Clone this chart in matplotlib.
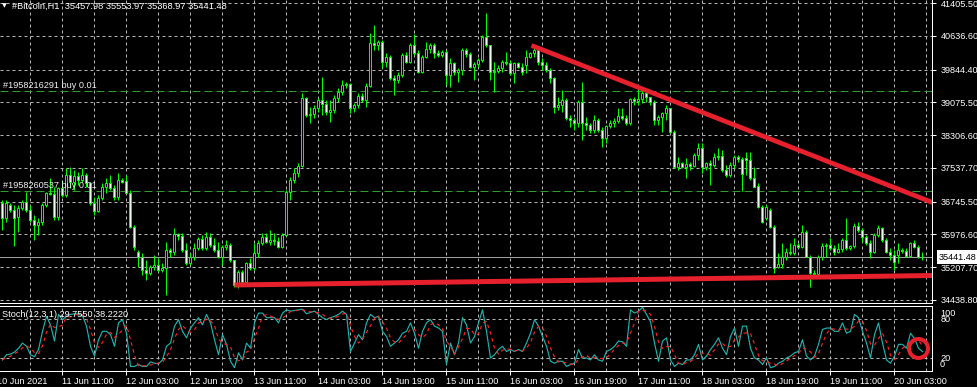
import matplotlib
matplotlib.use("Agg")
import matplotlib.pyplot as plt
import matplotlib.transforms as mtransforms
import numpy as np
import pandas as pd

plt.rcParams['font.family'] = ['Liberation Sans', 'DejaVu Sans']

# ---------------- data ----------------
opens = [36714, 36362, 36667, 36550, 36386, 36597, 36738, 36550, 36315, 36198,
         36269, 36667, 36949, 36925, 36386, 37066, 36902, 37371, 37207, 37347,
         37254, 37371, 37183, 36714, 36527, 36832, 37089, 37183, 37066, 36855,
         37254, 37230, 36949, 36151, 35565, 35447, 35143, 35072, 35213, 35260,
         35143, 35189, 35612, 35565, 35987, 35940, 35612, 35307, 35447, 35659,
         35870, 35659, 35917, 35729, 35612, 35447, 35682, 35729, 35377, 34791,
         35096, 34861, 35307, 35189, 35541, 35776, 35917, 35800, 35846, 35823,
         35682, 35964, 36972, 37254, 37418, 37582, 39177, 38778, 38802, 38943,
         39130, 39036, 38849, 38896, 39177, 39318, 39482, 39506, 38943, 39013,
         39224, 39130, 39459, 40467, 40420, 40491, 40022, 40139, 39646, 39599,
         39717, 40186, 40022, 40420, 40233, 39787, 40139, 40327, 40420, 40233,
         40186, 40256, 39717, 39998, 39787, 39834, 40303, 40209, 39904, 39975,
         40069, 40608, 40420, 39787, 39811, 39881, 40022, 39998, 39764, 39998,
         39904, 39951, 40139, 40233, 40303, 40022, 39951, 39834, 39646, 38966,
         39013, 39130, 38708, 38661, 38591, 39083, 38591, 38544, 38427, 38661,
         38427, 38239, 38520, 38591, 38638, 38755, 38708, 38591, 39154, 39107,
         39154, 39294, 39201, 39083, 38661, 38732, 38825, 38943, 38380, 37559,
         37653, 37559, 37629, 37582, 37840, 38004, 37559, 37653, 37606, 37793,
         37817, 37488, 37371, 37606, 37793, 37746, 37770, 37723, 37301, 37113,
         36620, 36362, 36550, 36151, 35213, 35283, 35447, 35565, 35541, 35729,
         35682, 36034, 35447, 35072, 35049, 35447, 35706, 35729, 35659, 35565,
         35635, 35846, 35659, 35706, 36175, 36081, 35917, 35776, 35565, 35964,
         36128, 35846, 35565, 35494, 35494, 35612, 35588, 35471, 35776, 35682,
         35457.98]

highs = [36785, 36785, 36714, 36667, 36667, 36785, 36972, 36667, 36433, 36362,
         36714, 36972, 37301, 37089, 37089, 37254, 37535, 37559, 37488, 37441,
         37535, 37418, 37207, 36855, 36902, 37183, 37301, 37371, 37136, 37418,
         37301, 37371, 37019, 36198, 35612, 35541, 35377, 35260, 35494, 35424,
         35307, 35800, 35659, 36128, 36011, 36011, 35776, 35541, 35776, 35917,
         35964, 36034, 36011, 35893, 35800, 35729, 35846, 35776, 35377, 35143,
         35143, 35330, 35424, 35776, 35846, 36011, 36011, 36081, 36011, 35917,
         36011, 37019, 37324, 37535, 37653, 39294, 39201, 38966, 39013, 39177,
         39670, 39130, 39130, 39248, 39412, 39599, 39553, 39529, 39060, 39294,
         39294, 39529, 40702, 40890, 40538, 40538, 40233, 40186, 39717, 39787,
         40233, 40256, 40467, 40678, 40303, 40186, 40491, 40467, 40467, 40303,
         40303, 40303, 40116, 40022, 39881, 40350, 40350, 40256, 40022, 40116,
         40655, 41171, 40420, 40022, 39951, 40069, 40256, 40069, 40022, 40022,
         39998, 40303, 40256, 40350, 40350, 40116, 40022, 39881, 39670, 39201,
         39365, 39177, 38778, 38708, 39130, 39553, 38732, 38591, 38778, 38708,
         38497, 38544, 38661, 38708, 38943, 38943, 38778, 39177, 39201, 39412,
         39412, 39365, 39201, 39130, 38778, 38849, 39013, 38943, 38427, 37793,
         37676, 37770, 37676, 37887, 38122, 38122, 37676, 37723, 37887, 38004,
         37957, 37606, 37676, 37840, 37840, 37793, 37910, 37910, 37559, 37183,
         36667, 36667, 36597, 36198, 35541, 35776, 35659, 35776, 35893, 35776,
         36198, 36081, 35494, 35143, 35494, 35776, 35776, 35893, 35729, 35776,
         35893, 36362, 35729, 36245, 36269, 36128, 35964, 35846, 36011, 36198,
         36151, 35893, 35659, 35612, 35776, 35659, 35659, 35800, 35846, 35729,
         35553.97]

lows = [36081, 36269, 36503, 35706, 36034, 36550, 36503, 36269, 35846, 35964,
        36198, 36620, 36902, 36315, 36315, 36855, 36855, 37066, 37019, 37136,
        37207, 37089, 36667, 36433, 36503, 36785, 36949, 37019, 36785, 36785,
        37183, 36949, 36128, 35612, 35213, 35025, 34908, 35025, 35143, 35096,
        35096, 34556, 35447, 35494, 35846, 35565, 35260, 35260, 35377, 35612,
        35612, 35612, 35682, 35565, 35424, 35260, 35612, 35330, 34744, 34720,
        34838, 34838, 35143, 35143, 35447, 35729, 35776, 35729, 35729, 35659,
        35659, 35940, 36785, 37183, 37324, 37559, 38732, 38591, 38708, 38849,
        38778, 38778, 38614, 38825, 39083, 39248, 39412, 38825, 38849, 38943,
        39083, 38966, 39435, 40303, 40303, 39881, 39904, 39599, 39248, 39529,
        39670, 39998, 39998, 40186, 39764, 39764, 40116, 40233, 40116, 40139,
        40139, 39482, 39435, 39717, 39553, 39717, 40139, 39881, 39599, 39904,
        40022, 40374, 39599, 39318, 39764, 39787, 39951, 39717, 39529, 39881,
        39717, 39764, 40116, 40139, 39951, 39834, 39787, 39529, 38825, 38896,
        38849, 38661, 38497, 38427, 38497, 38192, 38427, 38356, 38356, 38380,
        38028, 38122, 38474, 38497, 38591, 38661, 38544, 38544, 39013, 39013,
        39060, 39083, 39013, 38544, 38544, 38380, 38661, 38356, 37535, 37488,
        37535, 37301, 37488, 37559, 37723, 37418, 37488, 37136, 37559, 37723,
        37441, 37324, 37324, 37535, 37676, 36996, 37371, 37254, 37089, 36597,
        36245, 36315, 36128, 35072, 35189, 35189, 35377, 35494, 35494, 35659,
        35659, 35447, 34744, 34978, 35049, 35377, 35447, 35612, 35494, 35541,
        35565, 35612, 35612, 35659, 36034, 35800, 35729, 35424, 35541, 35917,
        35800, 35541, 35377, 35143, 35307, 35541, 35447, 35447, 35659, 35424,
        35368.97]

closes = [36362, 36714, 36550, 36362, 36597, 36738, 36550, 36315, 36198, 36269,
          36667, 36949, 36925, 36386, 37066, 36902, 37371, 37207, 37347, 37254,
          37371, 37183, 36714, 36527, 36832, 37089, 37183, 37066, 36855, 37254,
          37207, 36949, 36151, 35682, 35447, 35143, 35072, 35213, 35260, 35143,
          35189, 35612, 35565, 35987, 35940, 35612, 35307, 35447, 35659, 35870,
          35659, 35917, 35729, 35612, 35447, 35682, 35729, 35377, 34791, 35096,
          34861, 35307, 35189, 35541, 35776, 35917, 35800, 35846, 35823, 35682,
          35964, 36972, 37254, 37418, 37582, 39177, 38778, 38802, 38943, 39130,
          39036, 38849, 38896, 39177, 39318, 39482, 39506, 38943, 39013, 39224,
          39130, 39459, 40467, 40420, 40491, 40022, 40139, 39646, 39599, 39717,
          40186, 40022, 40420, 40233, 39787, 40139, 40327, 40420, 40233, 40186,
          40256, 39717, 39998, 39787, 39834, 40303, 40209, 39904, 39975, 40069,
          40608, 40420, 39787, 39811, 39881, 40022, 39998, 39764, 39998, 39904,
          39787, 40139, 40233, 40303, 40022, 39951, 39834, 39646, 38966, 39013,
          39130, 38708, 38661, 38591, 39083, 38591, 38544, 38427, 38661, 38427,
          38239, 38520, 38591, 38638, 38755, 38708, 38591, 39154, 39107, 39154,
          39294, 39201, 39083, 38661, 38732, 38825, 38943, 38380, 37559, 37653,
          37559, 37629, 37582, 37840, 38004, 37559, 37653, 37606, 37793, 37817,
          37488, 37371, 37606, 37793, 37746, 37394, 37723, 37301, 37089, 36620,
          36269, 36620, 36151, 35189, 35283, 35447, 35565, 35541, 35729, 35682,
          36034, 35447, 35072, 35049, 35447, 35706, 35729, 35659, 35565, 35635,
          35846, 35659, 35706, 36175, 36081, 35917, 35776, 35565, 35964, 36128,
          35846, 35565, 35494, 35330, 35612, 35588, 35471, 35776, 35682, 35447,
          35441.48]

stoch_main = [17, 25, 26, 29, 35, 43, 38, 25, 22, 33,
              61, 84, 71, 46, 87, 79, 84, 87, 88, 87,
              85, 69, 38, 23, 48, 61, 61, 56, 38, 74,
              79, 58, 7, 7, 10, 7, 7, 14, 12, 11,
              17, 38, 43, 69, 79, 61, 51, 66, 74, 82,
              71, 87, 74, 48, 25, 56, 41, 15, 5, 28,
              17, 43, 35, 74, 89, 89, 82, 82, 82, 74,
              89, 94, 92, 93, 94, 95, 88, 90, 92, 87,
              82, 79, 82, 84, 87, 92, 87, 30, 43, 56,
              48, 74, 87, 82, 84, 61, 53, 38, 43, 48,
              58, 61, 74, 58, 35, 61, 74, 79, 69, 66,
              61, 10, 43, 25, 43, 82, 71, 43, 53, 74,
              94, 61, 20, 25, 33, 38, 30, 33, 30, 33,
              30, 43, 58, 79, 69, 53, 38, 15, 12, 15,
              15, 7, 10, 12, 33, 20, 20, 17, 25, 17,
              15, 30, 33, 38, 46, 45, 38, 94, 89, 92,
              98, 87, 76, 43, 15, 46, 51, 17, 7, 12,
              10, 17, 17, 25, 41, 17, 23, 33, 41, 51,
              35, 25, 53, 66, 38, 69, 69, 35, 20, 17,
              10, 20, 5, 7, 12, 15, 20, 23, 28, 30,
              48, 23, 17, 23, 41, 64, 66, 66, 61, 61,
              74, 58, 61, 87, 82, 61, 43, 20, 56, 74,
              43, 17, 12, 23, 41, 41, 35, 58, 50, 35,
              29.755]
stoch_signal_period = 3

price_levels = [41405.50, 40636.60, 39844.40, 39075.50, 38306.60,
                37537.70, 36745.50, 35976.60, 35207.70, 34438.80]
date_labels = ["11 Jun 11:00", "12 Jun 03:00", "12 Jun 19:00", "13 Jun 11:00",
               "14 Jun 03:00", "14 Jun 19:00", "15 Jun 11:00", "16 Jun 03:00",
               "16 Jun 19:00", "17 Jun 11:00", "18 Jun 03:00", "18 Jun 19:00",
               "19 Jun 11:00", "20 Jun 03:00"]
date_bars = [15, 31, 47, 63, 79, 95, 111, 127, 143, 159, 175, 191, 207, 223]
first_date_label = "10 Jun 2021"
first_date_bar = -1
grid_minor_bars = [7, 23, 39, 55, 71, 87, 103, 119, 135, 151, 167, 183, 199, 215, 231]

order_labels = ["#1958216291 buy 0.01", "#1958260537 buy 0.01"]
order_prices = [39341, 36996]
last_price = 35441.48

trend_upper_bars = [132.25, 232.5]
trend_upper_prices = [40409, 36726]
trend_lower_bars = [58.0, 232.5]
trend_lower_prices = [34791, 35013]
circle_bar = 229
circle_value = 36

title_text = "#Bitcoin,H1  35457.98 35553.97 35368.97 35441.48"
stoch_text = "Stoch(12,3,1) 29.7550 38.2220"
stoch_levels = [80, 20]

# ---------------- styling ----------------
W, H = 978, 387
BG = 'black'
LIME = '#00ff00'
BEAR_FILL = '#e6ffe6'
GRID = '#b4b4b4'
RED = '#e6202c'
TXT = 'white'
FS = 6.6
PX = 0.72  # one pixel in points


def box(l, t, r, b):
    return [l / W, 1 - b / H, (r - l) / W, (b - t) / H]


fig = plt.figure(figsize=(W / 100, H / 100), dpi=100, facecolor=BG)
ax = fig.add_axes(box(0, 0, 932, 303))
axs = fig.add_axes(box(0, 305.5, 932, 371))

n = len(closes)
x = np.arange(n)
o = np.array(opens, float)
h = np.array(highs, float)
l = np.array(lows, float)
c = np.array(closes, float)

for a in (ax, axs):
    a.set_facecolor(BG)
    a.set_xlim(-0.625, 232.375)
    for s in ('left', 'top'):
        a.spines[s].set_visible(False)
    for s in ('right', 'bottom'):
        a.spines[s].set_color('white')
        a.spines[s].set_linewidth(PX)
axs.spines['top'].set_visible(True)
axs.spines['top'].set_color('white')
axs.spines['top'].set_linewidth(PX)

# ---- main panel ----
ax.set_ylim(34368.4, 41475.9)
ax.set_xticks(date_bars)
ax.set_xticks(grid_minor_bars, minor=True)
ax.tick_params(axis='x', which='both', length=0, labelbottom=False)
ax.yaxis.tick_right()
ax.set_yticks(price_levels)
ax.set_yticklabels([f"{v:.2f}" for v in price_levels])
ax.tick_params(axis='y', length=3, width=PX, colors='white', labelsize=FS,
               pad=3.2, labelcolor=TXT)
ax.grid(True, which='both', color=GRID, lw=PX, ls=(0, (3, 3)))
ax.set_axisbelow(True)

# order lines and labels
for lab, pr in zip(order_labels, order_prices):
    ax.axhline(pr, color='#2f9e2f', lw=PX, ls=(0, (8, 4)), zorder=1)
    ax.annotate(lab, xy=(3 / 932, pr), xycoords=('axes fraction', 'data'),
                xytext=(0, 0.8), textcoords='offset points', ha='left',
                va='bottom', color='#f0f0f0', fontsize=FS, zorder=6)

# current price line
ax.axhline(last_price, color='#a0a0a0', lw=PX, zorder=1)

# candles
ax.vlines(x, l, h, color=LIME, lw=PX, zorder=3)
bull = c >= o
fills = np.where(bull, 'black', BEAR_FILL)
ax.bar(x, np.abs(c - o), bottom=np.minimum(o, c), width=0.5,
       color=fills, edgecolor=LIME, linewidth=PX, zorder=4)

# trend lines
ax.plot(trend_upper_bars, trend_upper_prices, color=RED, lw=3.4,
        solid_capstyle='butt', zorder=5)
ax.plot(trend_lower_bars, trend_lower_prices, color=RED, lw=3.6,
        solid_capstyle='butt', zorder=5)

# current price box on the axis
trans = mtransforms.blended_transform_factory(ax.transAxes, ax.transData)
ax.text(939 / 932, last_price, f"{last_price:.2f}", transform=trans,
        ha='left', va='center', color='black', fontsize=FS, clip_on=False,
        bbox=dict(facecolor='white', edgecolor='none',
                  boxstyle='square,pad=0.25'), zorder=10)

# title
fig.text(12 / W, 1 - 6 / H, title_text, color=TXT, fontsize=6.7,
         ha='left', va='center')
fig.text(4 / W, 1 - 5.5 / H, '\u25BC', color=TXT, fontsize=4.5,
         ha='center', va='center', family=['DejaVu Sans'])

# ---- stochastic panel ----
axs.set_ylim(0, 100.7)
k = pd.Series(stoch_main, dtype=float)
d = k.rolling(stoch_signal_period, min_periods=1).mean()
axs.plot(x, k.values, color='#20b2aa', lw=0.85, zorder=3)
axs.plot(x, d.values, color='#ff2020', lw=0.85, ls=(0, (3, 3)), zorder=3)

axs.set_xticks(date_bars)
axs.set_xticklabels(date_labels)
axs.set_xticks(grid_minor_bars, minor=True)
axs.tick_params(axis='x', which='major', length=3, width=PX, colors='white',
                labelsize=FS, pad=1.5, labelcolor=TXT)
axs.tick_params(axis='x', which='minor', length=0)
for lbl in axs.get_xticklabels():
    lbl.set_horizontalalignment('left')
axs.yaxis.tick_right()
axs.set_yticks(stoch_levels)
axs.set_yticklabels([str(v) for v in stoch_levels])
axs.tick_params(axis='y', length=0, labelsize=FS, pad=6, labelcolor=TXT)
axs.grid(True, which='both', color=GRID, lw=PX, ls=(0, (3, 3)))
axs.set_axisbelow(True)

transs = mtransforms.blended_transform_factory(axs.transAxes, axs.transData)
axs.text(940 / 932, 89, "100", transform=transs, ha='left', va='center',
         color=TXT, fontsize=FS, clip_on=False)
axs.text(940 / 932, 9.5, "0", transform=transs, ha='left', va='center',
         color=TXT, fontsize=FS, clip_on=False)

# first date label (its bar lies just left of the view)
transx = mtransforms.blended_transform_factory(axs.transData, axs.transAxes)
axs.annotate(first_date_label, xy=(first_date_bar, 0), xycoords=transx,
             xytext=(-1.0, -4.6), textcoords='offset points', ha='left',
             va='top', color=TXT, fontsize=FS, annotation_clip=False)

axs.text(2 / 932, 0.855, stoch_text, transform=axs.transAxes, ha='left',
         va='center', color=TXT, fontsize=FS, zorder=6)

# hand-drawn red circle
axs.plot([circle_bar], [circle_value], marker='o', ms=13.7, mfc='none',
         mec=RED, mew=2.9, clip_on=False, zorder=7)

fig.savefig('out.png', dpi=100, facecolor=BG)
